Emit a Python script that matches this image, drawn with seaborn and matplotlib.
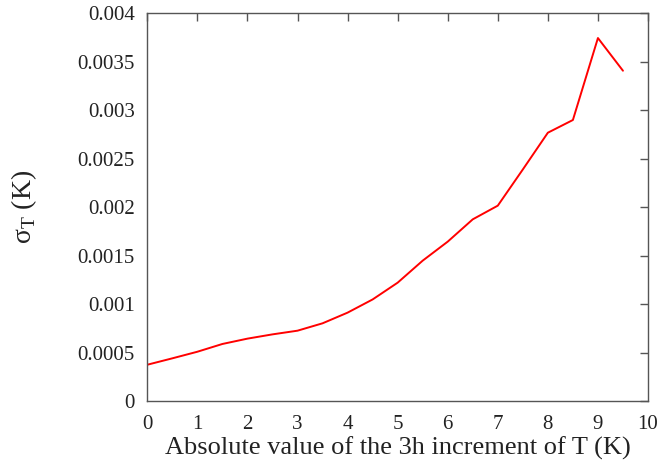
import matplotlib
matplotlib.use("Agg")
import matplotlib.pyplot as plt
import seaborn as sns
import pandas as pd

x_vals = [0, 0.5, 1, 1.5, 2, 2.5, 3, 3.5, 4, 4.5, 5, 5.5, 6, 6.5, 7, 7.5, 8, 8.5, 9, 9.5]
sigma_vals = [0.000377, 0.000443, 0.000511, 0.000591, 0.000646, 0.00069, 0.000728,
              0.000804, 0.000914, 0.00105, 0.001223, 0.00145, 0.001646, 0.001876,
              0.002017, 0.00239, 0.002769, 0.0029, 0.003745, 0.003408]
x_ticks = [0, 1, 2, 3, 4, 5, 6, 7, 8, 9, 10]
y_ticks = [0, 0.0005, 0.001, 0.0015, 0.002, 0.0025, 0.003, 0.0035, 0.004]
y_tick_labels = ["0", "0.0005", "0.001", "0.0015", "0.002", "0.0025", "0.003", "0.0035", "0.004"]

sns.set_style("white")
plt.rcParams['font.family'] = ['Liberation Serif', 'DejaVu Serif']
plt.rcParams['mathtext.fontset'] = 'custom'
plt.rcParams['mathtext.rm'] = 'Liberation Serif'

df = pd.DataFrame({"x": x_vals, "sigma": sigma_vals})

fig = plt.figure(figsize=(6.61, 4.69), dpi=100)
ax = fig.add_axes([147.3 / 661, 1 - 401.3 / 469, (648 - 147.3) / 661, (401.3 - 13.3) / 469])
sns.lineplot(data=df, x="x", y="sigma", ax=ax, color="#ff0000", linewidth=1.4)

ax.set_xlim(0, 10)
ax.set_ylim(0, 0.004)
ax.set_xticks(x_ticks)
ax.set_xticklabels([str(t) for t in x_ticks])
ax.set_yticks(y_ticks)
ax.set_yticklabels(y_tick_labels)
ax.tick_params(direction="in", length=6, width=1, color="#555555",
               top=True, right=True, labelsize=15, labelcolor="#222222")
ax.tick_params(axis="x", pad=10)
ax.tick_params(axis="y", pad=9)
for s in ax.spines.values():
    s.set_color("#555555")
    s.set_linewidth(1)
ax.set_xlabel("Absolute value of the 3h increment of T (K)", fontsize=19, color="#222222", labelpad=2)
ax.set_ylabel(r"σ$_\mathrm{T}$ (K)", fontsize=20, color="#222222", labelpad=28)

fig.savefig("out.png", dpi=100)
